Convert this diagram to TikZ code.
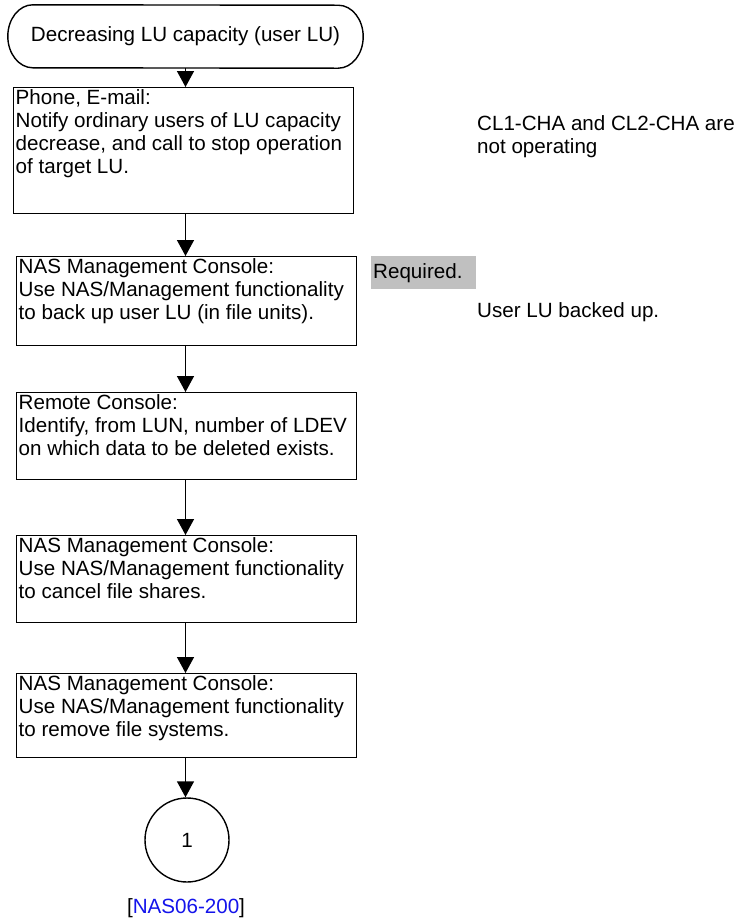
\documentclass[tikz,border=0pt]{standalone}
\usepackage{fontspec}
\setmainfont{Liberation Sans}
\usetikzlibrary{arrows.meta}
\definecolor{reqgray}{RGB}{192,192,192}
\definecolor{linkblue}{RGB}{20,20,235}
\begin{document}
\begin{tikzpicture}[x=1pt,y=-1pt,
  every node/.style={font=\fontsize{20.6}{23}\selectfont},
  stepbox/.style={draw,line width=1.4pt,anchor=north west,inner xsep=2pt,inner ysep=0pt,align=left},
  arr/.style={line width=1.4pt,-{Triangle[length=16pt,width=17pt]}},
  note/.style={anchor=north west,inner sep=0pt,align=left}]
\useasboundingbox (0,0) rectangle (746,922);
% terminal
\node[minimum width=355pt,minimum height=63pt,inner sep=0pt] (t) at (185.5,36.5) {Decreasing LU capacity (user LU)};
\draw[line width=1.4pt] ([xshift=25pt]t.north west) arc[start angle=90,end angle=270,x radius=25pt,y radius=31.5pt]
  -- ([xshift=-25pt]t.south east) arc[start angle=-90,end angle=90,x radius=25pt,y radius=31.5pt] -- cycle;
% boxes
\node[stepbox] (b1) at (13,87) {\parbox[c][126pt][t]{336pt}{\raggedright\rule{0pt}{17pt}Phone, E-mail:\\Notify ordinary users of LU capacity\\decrease, and call to stop operation\\of target LU.}};
\node[stepbox] (b2) at (16,256) {\parbox[c][89pt][t]{336pt}{\raggedright\rule{0pt}{17pt}NAS Management Console:\\Use NAS/Management functionality\\to back up user LU (in file units).}};
\node[stepbox] (b3) at (16,392) {\parbox[c][87pt][t]{336pt}{\raggedright\rule{0pt}{17pt}Remote Console:\\Identify, from LUN, number of LDEV\\on which data to be deleted exists.}};
\node[stepbox] (b4) at (16,535) {\parbox[c][87pt][t]{336pt}{\raggedright\rule{0pt}{17pt}NAS Management Console:\\Use NAS/Management functionality\\to cancel file shares.}};
\node[stepbox] (b5) at (16,673) {\parbox[c][84pt][t]{336pt}{\raggedright\rule{0pt}{17pt}NAS Management Console:\\Use NAS/Management functionality\\to remove file systems.}};
% connector circle
\node[draw,circle,line width=1.4pt,minimum size=84pt,inner sep=0pt] (c1) at (187,840) {1};
\node (ref) at (186,908) {[\textcolor{linkblue}{NAS06-200}]};
% notes
\node[note] (n1) at (477,113) {\rule{0pt}{17pt}CL1-CHA and CL2-CHA are\\not operating};
\node[fill=reqgray,anchor=north west,inner xsep=2pt,inner ysep=0pt,minimum width=105pt,minimum height=33pt,text width=101pt,align=left] (req) at (371,256) {Required.};
\node[note] (n2) at (477,300) {\rule{0pt}{17pt}User LU backed up.};
% arrows
\draw[arr] (t.south) -- (t.south |- b1.north);
\draw[arr] (t.south |- b1.south) -- (t.south |- b2.north);
\draw[arr] (t.south |- b2.south) -- (t.south |- b3.north);
\draw[arr] (t.south |- b3.south) -- (t.south |- b4.north);
\draw[arr] (t.south |- b4.south) -- (t.south |- b5.north);
\draw[arr] (t.south |- b5.south) -- (t.south |- c1.north);
\end{tikzpicture}
\end{document}
